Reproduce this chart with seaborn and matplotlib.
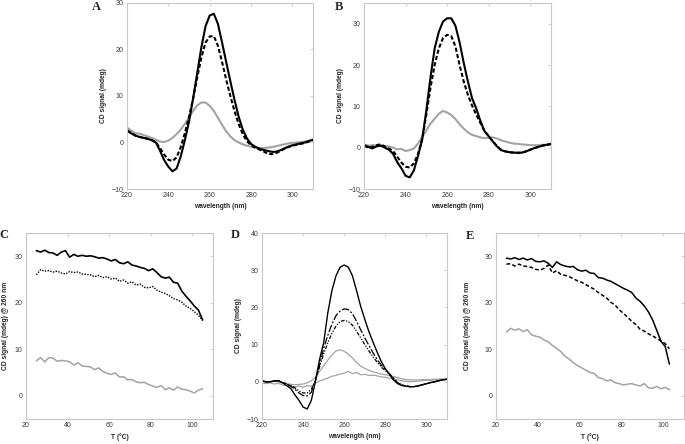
import matplotlib
matplotlib.use('Agg')
import matplotlib.pyplot as plt
import seaborn as sns

sns.set_style('white')
plt.rcParams['font.family'] = ['Liberation Sans', 'DejaVu Sans']

# wavelength grid (nm) shared by the spectra
wl = [220, 222, 224, 226, 228, 230, 232, 234, 236, 238, 240, 242, 244, 246, 248, 250,
      252, 254, 256, 258, 260, 262, 264, 266, 268, 270, 272, 274, 276, 278, 280, 282,
      284, 286, 288, 290, 292, 294, 296, 298, 300, 302, 304, 306, 308, 310]

# panel A spectra
a_solid = [2.7, 2.0, 1.5, 1.2, 1.0, 0.8, 0.5, 0.0, -1.8, -3.8, -5.2, -6.2, -5.6, -3.0, 0.5, 4.5,
           9.5, 15.0, 20.5, 25.0, 27.3, 27.7, 25.5, 21.5, 17.3, 13.2, 9.2, 5.6, 2.8, 0.9, -0.3, -0.9,
           -1.3, -1.6, -1.8, -2.0, -2.0, -1.7, -1.3, -0.9, -0.6, -0.4, -0.2, 0.0, 0.3, 0.6]
a_dash = [2.5, 2.0, 1.5, 1.2, 1.0, 0.8, 0.5, 0.0, -1.2, -2.6, -3.7, -4.0, -3.2, -1.0, 2.0, 5.5,
          9.5, 14.0, 18.3, 21.5, 22.8, 22.9, 20.8, 17.3, 13.5, 10.0, 6.8, 4.0, 1.8, 0.3, -0.6, -1.1,
          -1.5, -1.9, -2.4, -2.5, -2.3, -1.9, -1.4, -1.0, -0.7, -0.5, -0.3, -0.1, 0.2, 0.5]
a_gray = [3.2, 2.6, 2.0, 1.9, 1.6, 1.3, 1.0, 0.6, 0.2, 0.1, 0.4, 1.0, 1.8, 2.8, 4.0, 5.4,
          6.8, 8.0, 8.6, 8.6, 7.9, 6.8, 5.3, 3.8, 2.4, 1.3, 0.5, 0.0, -0.4, -0.7, -0.9, -1.1,
          -1.2, -1.2, -1.1, -1.0, -0.8, -0.6, -0.4, -0.2, -0.1, 0.0, 0.1, 0.2, 0.4, 0.6]

# panel B spectra
b_solid = [0.6, 0.2, -0.2, 0.3, 0.5, 0.0, -0.5, -1.5, -3.5, -5.0, -6.8, -7.2, -5.5, -2.0, 2.0, 9.0,
           17.0, 24.0, 28.0, 30.5, 31.3, 31.3, 29.5, 25.5, 20.5, 16.0, 12.0, 9.5, 6.5, 4.0, 2.8, 1.5,
           0.3, -0.6, -0.9, -1.1, -1.2, -1.2, -1.2, -0.9, -0.5, -0.1, 0.2, 0.5, 0.7, 0.9]
b_dash = [0.5, 0.0, 0.2, 0.6, 0.8, 0.3, -0.2, -0.8, -2.2, -3.6, -4.6, -4.8, -3.8, -1.5, 2.0, 8.0,
          14.5, 20.0, 24.0, 26.5, 27.3, 27.0, 24.5, 20.0, 16.0, 12.8, 10.2, 8.0, 6.0, 4.0, 2.8, 1.5,
          0.4, -0.5, -0.9, -1.1, -1.2, -1.3, -1.2, -0.9, -0.5, -0.1, 0.2, 0.5, 0.7, 0.9]
b_gray = [0.8, 0.5, 0.6, 0.5, 0.5, 0.4, 0.3, 0.0, -0.4, -0.3, -0.8, -0.6, -0.2, 1.0, 2.6, 4.2,
          5.8, 7.0, 8.2, 8.9, 8.5, 7.9, 6.9, 5.7, 4.6, 3.7, 3.1, 2.8, 2.5, 2.3, 2.4, 2.5,
          2.2, 1.8, 1.5, 1.2, 1.0, 0.9, 0.8, 0.7, 0.6, 0.6, 0.6, 0.7, 0.7, 0.8]

# panel D spectra
d_solid = [0.2, 0.0, 0.0, 0.2, 0.3, -0.3, -1.0, -1.8, -3.5, -5.0, -6.8, -7.3, -5.0, 0.2, 6.0, 10.5,
           18.5, 24.5, 28.5, 30.8, 31.4, 30.8, 28.5, 24.5, 20.3, 16.8, 13.5, 10.7, 8.0, 5.5, 3.5, 2.0,
           0.5, -0.5, -1.0, -1.2, -1.3, -1.3, -1.1, -0.8, -0.5, -0.2, 0.0, 0.3, 0.5, 0.7]
d_dashdot = [0.2, 0.0, 0.0, 0.2, 0.3, -0.2, -0.6, -1.2, -2.0, -3.0, -3.7, -3.8, -2.8, 0.3, 4.5, 9.0,
             12.5, 15.5, 17.8, 19.0, 19.6, 19.4, 18.3, 16.3, 14.0, 11.8, 9.8, 7.8, 6.0, 4.5, 3.3, 2.2,
             1.0, -0.3, -0.8, -1.1, -1.3, -1.3, -1.1, -0.8, -0.5, -0.2, 0.0, 0.3, 0.5, 0.7]
d_dashdotdot = [0.2, 0.0, 0.0, 0.2, 0.3, -0.2, -0.5, -1.0, -1.6, -2.5, -3.0, -3.0, -2.0, 0.5, 4.0, 7.5,
                10.5, 13.0, 15.0, 16.2, 16.5, 16.2, 15.2, 13.6, 11.8, 10.0, 8.3, 6.7, 5.3, 4.0, 3.0, 2.0,
                0.9, -0.3, -0.8, -1.1, -1.3, -1.3, -1.1, -0.8, -0.5, -0.2, 0.0, 0.3, 0.5, 0.7]
d_gray = [0.2, 0.0, 0.1, 0.2, 0.0, -0.3, -0.5, -0.7, -0.8, -0.7, -0.6, -0.3, 0.3, 1.2, 2.8, 4.3,
          5.8, 7.2, 8.3, 8.6, 8.2, 7.4, 6.4, 5.2, 4.2, 3.6, 3.1, 2.7, 2.4, 2.1, 1.9, 1.7,
          1.4, 1.1, 0.8, 0.6, 0.5, 0.5, 0.5, 0.6, 0.6, 0.6, 0.7, 0.7, 0.8, 0.8]
d_gray_low = [-0.3, -0.5, -0.3, -0.6, -0.4, -0.9, -1.0, -1.2, -1.4, -1.1, -1.5, -1.0, -1.2, -0.4, 0.2, 0.6,
              1.0, 1.5, 1.7, 2.1, 2.3, 2.8, 2.2, 2.5, 1.9, 2.0, 1.7, 1.8, 1.6, 1.3, 1.2, 1.0,
              0.7, 0.5, 0.3, 0.1, 0.0, 0.1, 0.2, 0.3, 0.4, 0.4, 0.5, 0.5, 0.6, 0.6]

# panel C melting curves
temp_c = [25, 27, 29, 31, 33, 35, 37, 39, 41, 43, 45, 47, 49, 51, 53, 55, 57, 59, 61, 63, 65,
          67, 69, 71, 73, 75, 77, 79, 81, 83, 85, 87, 89, 91, 93, 95, 97, 99, 101, 103, 105]
c_solid = [31.2, 30.9, 31.3, 30.8, 30.7, 30.2, 30.9, 31.2, 29.8, 30.4, 30.0, 30.2, 30.0, 30.1, 29.9,
           29.6, 29.7, 29.4, 29.0, 29.3, 28.6, 28.4, 28.8, 28.1, 27.9, 27.6, 27.4, 26.9, 27.3, 26.5,
           25.6, 25.3, 25.5, 24.4, 24.2, 22.5, 21.4, 20.4, 19.3, 18.4, 16.3]
c_dot = [26.0, 27.1, 26.8, 26.9, 26.6, 26.8, 26.4, 26.2, 26.7, 26.5, 26.6, 26.2, 26.1, 26.0, 25.6,
         25.9, 25.4, 25.6, 25.1, 25.3, 24.6, 24.9, 24.2, 24.5, 23.8, 24.0, 23.3, 23.2, 23.5, 22.7,
         22.3, 22.0, 21.5, 20.9, 20.6, 20.1, 19.3, 18.8, 18.1, 17.3, 16.2]
c_gray = [7.5, 8.2, 7.3, 8.2, 8.1, 7.4, 7.6, 7.5, 7.3, 6.6, 7.1, 6.4, 6.3, 6.2, 5.6,
          6.0, 5.2, 4.8, 4.6, 4.9, 4.0, 4.1, 3.4, 3.5, 3.0, 2.8, 2.9, 2.4, 2.1, 1.8,
          2.2, 1.3, 1.7, 1.2, 1.9, 1.4, 1.3, 1.0, 0.6, 1.2, 1.5]

# panel E melting curves
temp_e = [25, 27, 29, 31, 33, 35, 37, 39, 41, 43, 45, 47, 49, 51, 53, 55, 57, 59, 61, 63,
          65, 67, 69, 71, 73, 75, 77, 79, 81, 83, 85, 87, 89, 91, 93, 95, 97, 99, 101, 103]
e_solid = [29.6, 29.4, 29.7, 29.3, 29.6, 29.2, 29.5, 28.9, 28.8, 29.0, 28.5, 27.6, 28.8, 28.2, 27.9,
           27.7, 27.8, 27.1, 26.8, 27.0, 26.4, 26.3, 25.4, 25.3, 24.9, 24.6, 24.1, 23.6, 23.1, 22.7,
           22.2, 21.0, 20.3, 19.3, 18.0, 16.3, 14.0, 11.7, 10.6, 6.8]
e_dash = [28.3, 28.4, 27.9, 28.3, 27.9, 27.8, 27.6, 27.2, 27.0, 27.4, 28.1, 26.4, 26.9, 26.1, 25.9,
          25.6, 25.2, 24.7, 24.4, 23.9, 23.4, 22.9, 22.2, 21.6, 21.0, 20.1, 19.5, 18.5, 17.7, 16.9,
          16.0, 15.3, 14.3, 13.9, 13.3, 12.9, 12.3, 11.8, 11.2, 10.1]
e_gray = [13.7, 14.5, 14.1, 14.4, 13.8, 14.2, 13.1, 12.8, 12.6, 12.0, 11.6, 10.8, 10.2, 9.5, 8.5,
          7.9, 7.1, 6.5, 6.0, 5.5, 5.0, 4.8, 3.9, 3.7, 3.2, 3.4, 2.8, 2.6, 2.3, 2.5,
          2.6, 2.3, 2.1, 2.6, 1.7, 1.6, 2.0, 1.5, 1.8, 1.3]

GRAY = '#a3a3a3'
FRAME = '#c8c8c8'
W, H = 685, 444


def make_ax(fig, left, top, right, bottom):
    return fig.add_axes([left / W, 1 - bottom / H, (right - left) / W, (bottom - top) / H])


def style_ax(ax, xlim, ylim, xticks, yticks, xlabel, ylabel, ylabelpad):
    ax.set_xlim(xlim)
    ax.set_ylim(ylim)
    ax.set_xticks(xticks)
    ax.set_yticks(yticks)
    ax.tick_params(direction='in', top=True, right=True, length=2.2, width=0.6,
                   color=FRAME, labelsize=5, labelcolor='#3a3a3a', pad=2.5)
    for sp in ax.spines.values():
        sp.set_color(FRAME)
        sp.set_linewidth(0.8)
    ax.set_xlabel(xlabel, fontsize=4.8, fontweight='bold', labelpad=2.5)
    ax.set_ylabel(ylabel, fontsize=4.8, fontweight='bold', labelpad=ylabelpad)


def line(ax, x, y, color, lw, ls='-'):
    sns.lineplot(x=x, y=y, ax=ax, color=color, linewidth=lw, linestyle=ls)


fig = plt.figure(figsize=(W / 100, H / 100), dpi=100)

wl_ticks = [220, 240, 260, 280, 300]
t_ticks = [20, 40, 60, 80, 100]

# A
ax = make_ax(fig, 127, 3, 313, 189)
line(ax, wl, a_gray, GRAY, 1.5)
line(ax, wl, a_dash, 'black', 1.5, (0, (2.0, 1.1)))
line(ax, wl, a_solid, 'black', 1.5)
style_ax(ax, (220, 310), (-10, 30), wl_ticks, [-10, 0, 10, 20, 30],
         'wavelength (nm)', 'CD signal (mdeg)', 3)

# B
ax = make_ax(fig, 364, 3, 551, 189)
line(ax, wl, b_gray, GRAY, 1.5)
line(ax, wl, b_dash, 'black', 1.5, (0, (2.0, 1.1)))
line(ax, wl, b_solid, 'black', 1.5)
style_ax(ax, (220, 310), (-10, 35), wl_ticks, [-10, 0, 10, 20, 30],
         'wavelength (nm)', 'CD signal (mdeg)', 3)

# C
ax = make_ax(fig, 26, 233, 213, 419)
line(ax, temp_c, c_gray, GRAY, 1.1)
line(ax, temp_c, c_dot, 'black', 1.0, (0, (1.0, 1.0)))
line(ax, temp_c, c_solid, 'black', 1.2)
style_ax(ax, (20, 110), (-5, 35), t_ticks, [0, 10, 20, 30],
         'T (°C)', 'CD signal (mdeg) @ 260 nm', 4)

# D
ax = make_ax(fig, 262, 233, 447, 419)
line(ax, wl, d_gray_low, GRAY, 0.9)
line(ax, wl, d_gray, GRAY, 0.9)
line(ax, wl, d_dashdotdot, 'black', 0.9, (0, (3.0, 1.2, 1.0, 1.2, 1.0, 1.2)))
line(ax, wl, d_dashdot, 'black', 0.9, (0, (6.0, 1.5, 1.5, 1.5)))
line(ax, wl, d_solid, 'black', 1.0)
style_ax(ax, (220, 310), (-10, 40), wl_ticks, [-10, 0, 10, 20, 30, 40],
         'wavelength (nm)', 'CD signal (mdeg)', 3.5)

# E
ax = make_ax(fig, 496, 233, 684, 419)
line(ax, temp_e, e_gray, GRAY, 1.1)
line(ax, temp_e, e_dash, 'black', 1.1, (0, (2.5, 1.5)))
line(ax, temp_e, e_solid, 'black', 1.1)
style_ax(ax, (20, 110), (-5, 35), t_ticks, [0, 10, 20, 30],
         'T (°C)', 'CD signal (mdeg) @ 260 nm', 9.5)

letter = dict(fontsize=9, fontweight='bold', family='Liberation Serif', ha='center', va='center')
fig.text(96 / W, 1 - 7 / H, 'A', **letter)
fig.text(339 / W, 1 - 7 / H, 'B', **letter)
fig.text(4 / W, 1 - 235 / H, 'C', **letter)
fig.text(235 / W, 1 - 235 / H, 'D', **letter)
fig.text(470 / W, 1 - 236 / H, 'E', **letter)

fig.savefig('out.png', dpi=100)
